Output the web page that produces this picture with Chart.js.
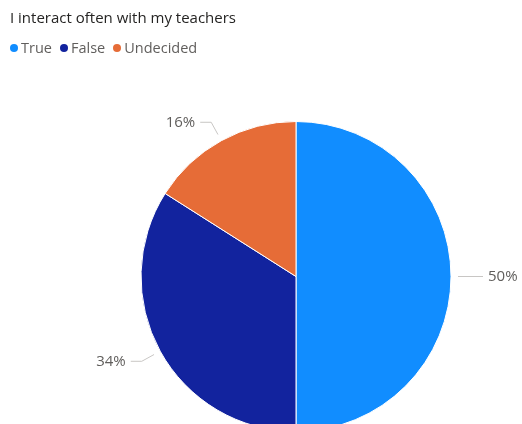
<!DOCTYPE html>
<html>
<head>
<meta charset="utf-8">
<script src="https://cdn.jsdelivr.net/npm/chart.js@4"></script>
<style>
  html, body { margin: 0; padding: 0; background: #fff; overflow: hidden; }
  #wrap { position: relative; width: 522px; height: 424px; overflow: hidden; }
  #chart-title { position: absolute; left: 10px; top: 7px; font: 15px "Open Sans", sans-serif; color: #252423; white-space: nowrap; }
  #chart-legend { position: absolute; left: 10px; top: 38px; font: 14.5px "Open Sans", sans-serif; color: #605E5C; white-space: nowrap; }
  #chart-legend span.item { margin-right: 8px; }
  #chart-legend span.dot { display: inline-block; width: 8px; height: 8px; border-radius: 50%; margin-right: 3px; vertical-align: 1px; }
  #pie-box { position: absolute; left: 0; top: 0; width: 522px; height: 432px; }
</style>
</head>
<body>
<div id="wrap">
  <div id="pie-box"><canvas id="pie-chart"></canvas></div>
  <div id="chart-title"></div>
  <div id="chart-legend"></div>
</div>
<script>
const chartTitle = 'I interact often with my teachers';
const categories = ['True', 'False', 'Undecided'];
const shares = [50, 34, 16];
const sliceColors = ['#118DFF', '#12239E', '#E66C37'];

document.addEventListener('DOMContentLoaded', function() {
  // Title and legend above the pie
  document.getElementById('chart-title').textContent = chartTitle;
  const legendEl = document.getElementById('chart-legend');
  categories.forEach(function(name, i) {
    const item = document.createElement('span');
    item.className = 'item';
    const dot = document.createElement('span');
    dot.className = 'dot';
    dot.style.background = sliceColors[i];
    item.appendChild(dot);
    item.appendChild(document.createTextNode(name));
    legendEl.appendChild(item);
  });

  // Percent labels with leader lines outside each slice
  const leaderLabels = {
    id: 'leaderLabels',
    afterDatasetsDraw(chart) {
      const ctx = chart.ctx;
      const meta = chart.getDatasetMeta(0);
      ctx.save();
      ctx.font = '15px "Open Sans", sans-serif';
      ctx.textBaseline = 'middle';
      meta.data.forEach(function(arc, i) {
        const p = arc.getProps(['x', 'y', 'startAngle', 'endAngle', 'outerRadius'], true);
        const mid = (p.startAngle + p.endAngle) / 2;
        const cos = Math.cos(mid), sin = Math.sin(mid);
        const r0 = p.outerRadius + 7, r1 = p.outerRadius + 21;
        const x0 = p.x + cos * r0, y0 = p.y + sin * r0;
        const x1 = p.x + cos * r1, y1 = p.y + sin * r1;
        const dir = cos >= 0 ? 1 : -1;
        const x2 = x1 + dir * 11;
        ctx.strokeStyle = '#C8C6C4';
        ctx.lineWidth = 1;
        ctx.beginPath();
        ctx.moveTo(x0, y0);
        ctx.lineTo(x1, y1);
        ctx.lineTo(x2, y1);
        ctx.stroke();
        ctx.fillStyle = '#605E5C';
        ctx.textAlign = dir > 0 ? 'left' : 'right';
        ctx.fillText(shares[i] + '%', x2 + dir * 5, y1);
      });
      ctx.restore();
    }
  };

  const ctx = document.getElementById('pie-chart').getContext('2d');
  new Chart(ctx, {
    type: 'pie',
    data: {
      labels: categories,
      datasets: [{
        data: shares,
        backgroundColor: sliceColors,
        borderColor: '#ffffff',
        borderWidth: 1
      }]
    },
    options: {
      responsive: true,
      maintainAspectRatio: false,
      animation: false,
      layout: { padding: { left: 120, right: 50, top: 121, bottom: 0 } },
      plugins: {
        legend: { display: false },
        title: { display: false },
        tooltip: { enabled: false }
      }
    },
    plugins: [leaderLabels]
  });
});
</script>
</body>
</html>
